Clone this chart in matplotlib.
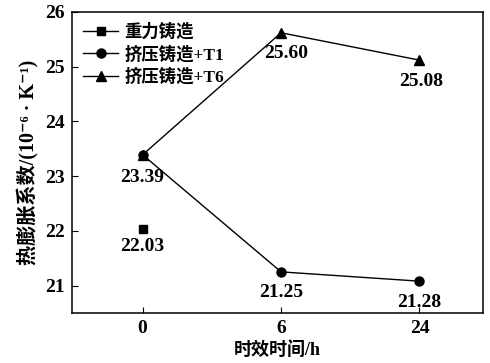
import matplotlib
matplotlib.use('Agg')
import matplotlib.pyplot as plt

plt.rcParams['font.family'] = ['Liberation Serif', 'Noto Sans CJK SC', 'DejaVu Sans']
plt.rcParams['font.weight'] = 'bold'
plt.rcParams['axes.labelweight'] = 'bold'

xLabels = ['0', '6', '24']
gravityX = [0]
gravityY = [22.04]
gravityText = ['22.03']
t1Y = [23.39, 21.25, 21.08]
t1Text = ['23.39', '21.25', '21.28']
t6Y = [23.39, 25.62, 25.12]
t6Text = ['', '25.60', '25.08']

fig = plt.figure(figsize=(4.9, 3.63), dpi=100)
ax = fig.add_axes([0.147, 0.138, 0.839, 0.829])

xs = list(range(len(xLabels)))
ax.plot(gravityX, gravityY, '-s', color='black', lw=1, ms=6, label='重力铸造')
ax.plot(xs, t1Y, '-o', color='black', lw=1, ms=6.5, label='挤压铸造+T1')
ax.plot(xs, t6Y, '-^', color='black', lw=1, ms=7.5, label='挤压铸造+T6')

fs = 14
for x, y, t in zip(gravityX, gravityY, gravityText):
    ax.annotate(t, (x, y), xytext=(0, -7), textcoords='offset points', ha='center', va='top', fontsize=fs)
for x, y, t in zip(xs, t1Y, t1Text):
    dy = -10 if x == 0 else -9
    ax.annotate(t, (x, y), xytext=(0, dy), textcoords='offset points', ha='center', va='top', fontsize=fs)
for x, y, t in zip(xs, t6Y, t6Text):
    if not t:
        continue
    ox = 4 if x == 1 else 1
    ax.annotate(t, (x, y), xytext=(ox, -9), textcoords='offset points', ha='center', va='top', fontsize=fs)

ax.set_xlim(-0.51, 2.46)
ax.set_ylim(20.5, 26)
ax.set_xticks(xs)
ax.set_xticklabels(xLabels)
ax.set_yticks([21, 22, 23, 24, 25, 26])
ax.tick_params(direction='in', labelsize=14, length=4, pad=5)
for s in ax.spines.values():
    s.set_linewidth(1.1)
ax.set_xlabel('时效时间/h', fontsize=13, labelpad=3)
ax.set_ylabel('热膨胀系数/(10⁻⁶ · K⁻¹)', fontsize=14.5, labelpad=5)

ax.legend(loc='upper left', frameon=False, fontsize=12.5, handlelength=2.0, handletextpad=0.35,
          labelspacing=0.3, borderaxespad=0.2, borderpad=0.45)

fig.savefig('out.png', dpi=100)
